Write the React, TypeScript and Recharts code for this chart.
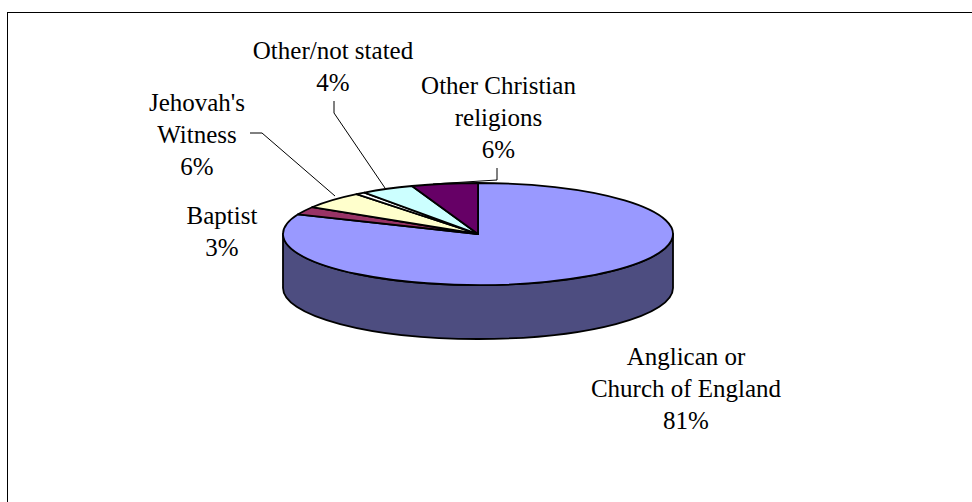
import { PieChart, Pie, Cell } from "recharts";

// the empty category is the thin unlabelled white slice between Jehovah's and Other/not stated
const CATEGORIES = [
  "Anglican or|Church of England",
  "Baptist",
  "Jehovah's|Witness",
  "",
  "Other/not stated",
  "Other Christian|religions",
];
const SHARES = [81.3, 2.5, 5.5, 0.8, 4.4, 5.5];
const TOP_COLORS = ["#9999ff", "#993366", "#ffffcc", "#ffffff", "#ccffff", "#660066"];

const chartData = CATEGORIES.map((name, i) => ({ name, value: SHARES[i] }));

const WIDTH = 972;
const HEIGHT = 502;
const CX = 478;
const CY = 234;
const RX = 195;
const RY = 51;
const DEPTH = 54;
const WALL_COLOR = "#4d4d80";
const FONT = "'Liberation Serif', 'Times New Roman', serif";
const FONT_SIZE = 25;
const LINE_HEIGHT = 32;

// hand placed label blocks and leader lines, as in the original
const LABEL_CENTRES: Record<string, [number, number]> = {
  "Anglican or|Church of England": [686, 387.6],
  Baptist: [222, 230.6],
  "Jehovah's|Witness": [197, 133.6],
  "Other/not stated": [333, 65.6],
  "Other Christian|religions": [498.5, 117],
};
const LEADERS: Record<string, number[][]> = {
  "Jehovah's|Witness": [[250, 133], [262, 133], [335, 196]],
  "Other/not stated": [[334, 101], [334, 113], [385, 188]],
  "Other Christian|religions": [[497, 168], [497, 180], [433, 184]],
};

const rim = (deg: number) => {
  const a = (deg * Math.PI) / 180;
  return [CX + RX * Math.cos(a), CY - RY * Math.sin(a)];
};

// flattened sector with the side wall for whatever part of it faces the viewer
const TiltedSector = (props: any) => {
  const { startAngle, endAngle, fill } = props;
  const [x0, y0] = rim(startAngle);
  const [x1, y1] = rim(endAngle);
  const sweep = startAngle > endAngle ? 1 : 0;
  const large = Math.abs(startAngle - endAngle) > 180 ? 1 : 0;
  const top = `M${CX},${CY} L${x0},${y0} A${RX},${RY} 0 ${large} ${sweep} ${x1},${y1} Z`;

  let wall = null;
  const hi = Math.max(startAngle, endAngle);
  const lo = Math.min(startAngle, endAngle);
  // front half of the rim is -180..0
  const wallHi = Math.min(hi, 0);
  const wallLo = Math.max(lo, -180);
  if (wallHi > wallLo) {
    const [ax, ay] = rim(wallHi);
    const [bx, by] = rim(wallLo);
    const d = `M${ax},${ay} A${RX},${RY} 0 0 1 ${bx},${by} L${bx},${by + DEPTH} A${RX},${RY} 0 0 0 ${ax},${ay + DEPTH} Z`;
    wall = <path d={d} fill={WALL_COLOR} stroke="#000" strokeWidth={1.8} strokeLinejoin="round" />;
  }
  return (
    <g>
      {wall}
      <path d={top} fill={fill} stroke="#000" strokeWidth={1.8} strokeLinejoin="round" />
    </g>
  );
};

const renderLabel = (props: any) => {
  const { name, value } = props;
  if (!name) return <g />;
  const [cx, cy] = LABEL_CENTRES[name];
  const lines = [...name.split("|"), `${Math.round(value)}%`];
  const top = cy - ((lines.length - 1) * LINE_HEIGHT) / 2;
  const leader = LEADERS[name];
  return (
    <g>
      {leader && (
        <polyline
          points={leader.map((p) => p.join(",")).join(" ")}
          fill="none"
          stroke="#000"
          strokeWidth={1}
        />
      )}
      <text
        x={cx}
        y={top}
        textAnchor="middle"
        dominantBaseline="central"
        fontFamily={FONT}
        fontSize={FONT_SIZE}
        fill="#000"
      >
        {lines.map((line, i) => (
          <tspan key={line} x={cx} dy={i === 0 ? 0 : LINE_HEIGHT}>
            {line}
          </tspan>
        ))}
      </text>
    </g>
  );
};

export default function App() {
  return (
    <div style={{ position: "absolute", left: 0, top: 0, width: WIDTH, height: HEIGHT, background: "#fff", overflow: "hidden" }}>
      <div
        style={{
          position: "absolute",
          left: 7,
          top: 12,
          width: 965,
          height: 490,
          borderLeft: "1.5px solid #000",
          borderTop: "1.5px solid #000",
          boxSizing: "border-box",
        }}
      />
      <PieChart width={WIDTH} height={HEIGHT} margin={{ top: 0, right: 0, bottom: 0, left: 0 }}>
        <Pie
          data={chartData}
          dataKey="value"
          nameKey="name"
          cx={CX}
          cy={CY}
          outerRadius={RX}
          startAngle={90}
          endAngle={-270}
          shape={TiltedSector}
          label={renderLabel}
          labelLine={false}
          isAnimationActive={false}
        >
          {chartData.map((d, i) => (
            <Cell key={i} fill={TOP_COLORS[i]} />
          ))}
        </Pie>
      </PieChart>
    </div>
  );
}
